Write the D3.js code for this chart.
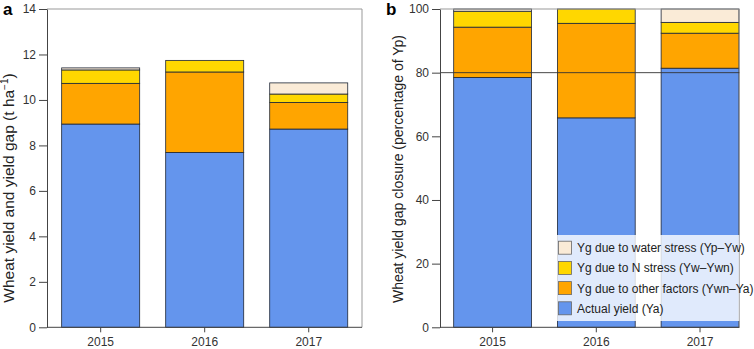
<!DOCTYPE html>
<html>
<head>
<meta charset="utf-8">
<script src="https://cdn.jsdelivr.net/npm/d3@7"></script>
<style>
  body { margin: 0; background: #fff; }
  svg { display: block; font-family: 'Liberation Sans', Arial, sans-serif; }
  .tick text { fill: #333; font-size: 12px; }
  .tick line, .domain { stroke: #444; }
</style>
</head>
<body>
<script>
// years on the x axis
const years = ['2015', '2016', '2017'];

// panel a: t/ha
const actualA = [8.94, 7.69, 8.72];
const otherA = [1.79, 3.54, 1.17];
const nStressA = [0.59, 0.51, 0.37];
const waterA = [0.09, 0, 0.49];

// panel b: percentage of Yp
const actualB = [78.5, 65.8, 81.4];
const otherB = [15.8, 29.7, 11.0];
const nStressB = [5.0, 4.5, 3.4];
const waterB = [0.7, 0, 4.2];

const keys = ['actual', 'other', 'nstress', 'water'];
const colors = { actual: '#6495ED', other: '#FFA500', nstress: '#FFD700', water: '#FAEBD7' };
const legendItems = [
  ['water', 'Yg due to water stress (Yp\u2013Yw)'],
  ['nstress', 'Yg due to N stress (Yw\u2013Ywn)'],
  ['other', 'Yg due to other factors (Ywn\u2013Ya)'],
  ['actual', 'Actual yield (Ya)']
];

const svg = d3.select('body').append('svg')
  .attr('width', 754)
  .attr('height', 349);

const yTop = 9, yBot = 327.3;

const drawPanel = (opts) => {
  const rows = years.map((yr, i) => ({
    year: yr,
    actual: opts.actual[i],
    other: opts.other[i],
    nstress: opts.nstress[i],
    water: opts.water[i]
  }));
  const series = d3.stack().keys(keys)(rows);

  const x = d3.scaleBand().domain(years)
    .range([opts.x0, opts.bandEnd])
    .paddingInner(0.25)
    .paddingOuter(opts.padOuter);
  const y = d3.scaleLinear().domain([0, opts.max]).range([yBot, yTop]);

  const g = svg.append('g');

  //bars
  g.selectAll('.layer')
    .data(series)
    .enter()
    .append('g')
    .attr('fill', (d) => colors[d.key])
    .selectAll('rect')
    .data((d) => d.filter((s) => s[1] - s[0] > 0))
    .enter()
    .append('rect')
    .attr('x', (d) => x(d.data.year))
    .attr('width', x.bandwidth())
    .attr('y', (d) => y(d[1]))
    .attr('height', (d) => y(d[0]) - y(d[1]))
    .attr('stroke', '#1d2636')
    .attr('stroke-width', 0.8);

  //gray frame top and right
  g.append('line')
    .attr('x1', opts.x0).attr('x2', opts.x1)
    .attr('y1', yTop).attr('y2', yTop)
    .attr('stroke', '#999');
  g.append('line')
    .attr('x1', opts.x1).attr('x2', opts.x1)
    .attr('y1', yTop).attr('y2', yBot)
    .attr('stroke', '#999');

  if (opts.refLine !== undefined) {
    g.append('line')
      .attr('x1', opts.x0).attr('x2', opts.x1)
      .attr('y1', y(opts.refLine)).attr('y2', y(opts.refLine))
      .attr('stroke', '#333')
      .attr('stroke-width', 0.9);
  }

  //axes
  const yAxis = g.append('g')
    .attr('transform', `translate(${opts.x0},0)`)
    .call(d3.axisLeft(y).tickValues(opts.ticks).tickSize(8).tickPadding(3).tickSizeOuter(0));
  yAxis.select('.domain').attr('stroke', '#444');

  const xAxis = g.append('g')
    .attr('transform', `translate(0,${yBot})`)
    .call(d3.axisBottom(x).tickSize(5).tickPadding(5).tickSizeOuter(0));
  xAxis.select('.domain').attr('d', `M${opts.x0},0H${opts.x1}`);

  //axis title
  g.append('text')
    .attr('transform', `translate(${opts.titleX},${opts.titleY}) rotate(-90)`)
    .attr('text-anchor', 'middle')
    .attr('font-size', opts.titleSize)
    .attr('fill', '#222')
    .html(opts.title);

  //panel letter
  g.append('text')
    .attr('x', opts.letterX)
    .attr('y', 15)
    .attr('font-size', 17)
    .attr('font-weight', 'bold')
    .attr('fill', '#000')
    .text(opts.letter);

  return { x, y, g };
};

drawPanel({
  actual: actualA, other: otherA, nstress: nStressA, water: waterA,
  x0: 47, x1: 362, bandEnd: 362.4, padOuter: 0.141, max: 14,
  ticks: [0, 2, 4, 6, 8, 10, 12, 14],
  title: 'Wheat yield and yield gap (t ha<tspan dy="-6" font-size="10">\u22121</tspan><tspan dy="6">)</tspan>',
  titleX: 14, titleY: 188, titleSize: 15.5,
  letter: 'a', letterX: 3
});

const pb = drawPanel({
  actual: actualB, other: otherB, nstress: nStressB, water: waterB,
  x0: 440, x1: 739.3, bandEnd: 752.6, padOuter: 0.132, max: 100,
  ticks: [0, 20, 40, 60, 80, 100],
  refLine: 80,
  title: 'Wheat yield gap closure (percentage of Yp)',
  titleX: 403, titleY: 169, titleSize: 14,
  letter: 'b', letterX: 386
});

//legend box on panel b
const legend = pb.g.append('g');
legend.append('rect')
  .attr('x', 557).attr('y', 235)
  .attr('width', 182.3).attr('height', 86)
  .attr('fill', '#fff')
  .attr('fill-opacity', 0.8);

legendItems.forEach((item, i) => {
  const cy = 247.7 + i * 20.2;
  legend.append('rect')
    .attr('x', 558.5).attr('y', cy - 6.5)
    .attr('width', 13).attr('height', 13)
    .attr('fill', colors[item[0]])
    .attr('stroke', '#666')
    .attr('stroke-width', 0.8);
  legend.append('text')
    .attr('x', 577).attr('y', cy + 4.5)
    .attr('font-size', 12)
    .attr('fill', '#222')
    .text(item[1]);
});
</script>
</body>
</html>
